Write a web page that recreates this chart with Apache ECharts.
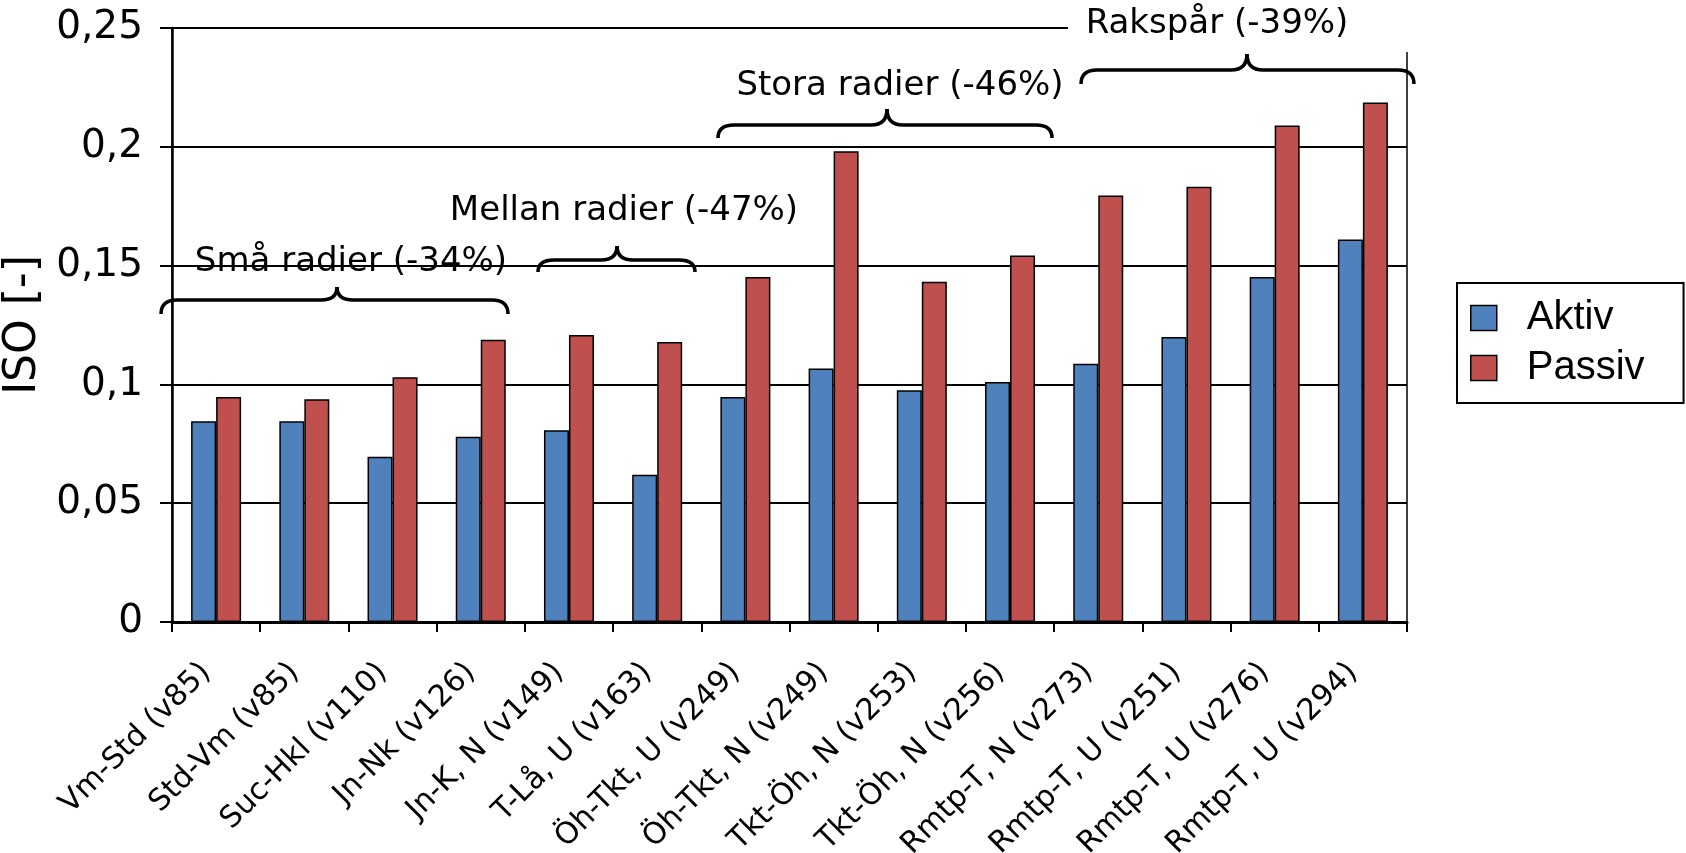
<!DOCTYPE html>
<html>
<head>
<meta charset="utf-8">
<script src="https://cdn.jsdelivr.net/npm/echarts@6/dist/echarts.min.js"></script>
<style>
html,body{margin:0;padding:0;background:#fff;}
#chart{width:1686px;height:853px;}
</style>
</head>
<body>
<div id="chart"></div>
<script>
const categories = ['Vm-Std (v85)', 'Std-Vm (v85)', 'Suc-Hkl (v110)', 'Jn-Nk (v126)', 'Jn-K, N (v149)', 'T-Lå, U (v163)', 'Öh-Tkt, U (v249)', 'Öh-Tkt, N (v249)', 'Tkt-Öh, N (v253)', 'Tkt-Öh, N (v256)', 'Rmtp-T, N (v273)', 'Rmtp-T, U (v251)', 'Rmtp-T, U (v276)', 'Rmtp-T, U (v294)'];
const aktiv = [0.0845, 0.0845, 0.0695, 0.078, 0.0807, 0.062, 0.0947, 0.1067, 0.0975, 0.101, 0.1087, 0.12, 0.1452, 0.161];
const passiv = [0.0947, 0.0937, 0.103, 0.1188, 0.1208, 0.1178, 0.1452, 0.1981, 0.1432, 0.1543, 0.1795, 0.1832, 0.209, 0.2186];
const seriesNames = ['Aktiv', 'Passiv'];
const groupLabels = ['Små radier (-34%)', 'Mellan radier (-47%)', 'Stora radier (-46%)', 'Rakspår (-39%)'];

const FONT = '"DejaVu Sans", Verdana, sans-serif';
const chart = echarts.init(document.getElementById('chart'), null, {renderer: 'canvas'});

const braceStyle = {fill: 'none', stroke: '#000', lineWidth: 3.5};
function braceParts(b) {
  const r = 16;
  const {x0, x1, xm, yTip, yLine, yPeak} = b;
  return [
    {type: 'bezierCurve', z: 101, shape: {x1: x0, y1: yTip, x2: x0 + r, y2: yLine, cpx1: x0, cpy1: yLine}, style: braceStyle},
    {type: 'line', z: 101, shape: {x1: x0 + r, y1: yLine, x2: xm - r, y2: yLine}, style: braceStyle},
    {type: 'bezierCurve', z: 101, shape: {x1: xm - r, y1: yLine, x2: xm, y2: yPeak, cpx1: xm, cpy1: yLine}, style: braceStyle},
    {type: 'bezierCurve', z: 101, shape: {x1: xm, y1: yPeak, x2: xm + r, y2: yLine, cpx1: xm, cpy1: yLine}, style: braceStyle},
    {type: 'line', z: 101, shape: {x1: xm + r, y1: yLine, x2: x1 - r, y2: yLine}, style: braceStyle},
    {type: 'bezierCurve', z: 101, shape: {x1: x1 - r, y1: yLine, x2: x1, y2: yTip, cpx1: x1, cpy1: yLine}, style: braceStyle}
  ];
}

const braces = [
  {x0: 161, x1: 508, xm: 337, yTip: 314, yLine: 300, yPeak: 287, tx: 351, ty: 262},
  {x0: 538, x1: 695, xm: 617, yTip: 272, yLine: 260, yPeak: 246, tx: 624, ty: 211},
  {x0: 718, x1: 1052, xm: 887, yTip: 138, yLine: 125, yPeak: 109, tx: 900, ty: 86},
  {x0: 1081, x1: 1414, xm: 1247, yTip: 84, yLine: 70, yPeak: 54, tx: 1217, ty: 24}
];

let graphics = [
  {type: 'rect', z: 100, shape: {x: 1068, y: 0, width: 370, height: 52}, style: {fill: '#fff'}}
];
braces.forEach((b, i) => {
  graphics = graphics.concat(braceParts(b));
  graphics.push({type: 'text', z: 102, style: {text: groupLabels[i], x: b.tx, y: b.ty, fill: '#000',
    font: '34px ' + FONT, textAlign: 'center', textVerticalAlign: 'middle'}});
});

const option = {
  backgroundColor: '#fff',
  animation: false,
  grid: {left: 172, right: 279, top: 28, bottom: 231, show: true, borderColor: '#000', borderWidth: 1.5,
    containLabel: false, outerBoundsMode: 'none'},
  legend: {
    orient: 'vertical', left: 1457, top: 283,
    data: seriesNames,
    icon: 'rect',
    itemWidth: 26, itemHeight: 25, itemGap: 6,
    padding: [13, 39, 13, 13],
    borderColor: '#000', borderWidth: 2,
    itemStyle: {borderColor: '#000', borderWidth: 1.5},
    textStyle: {fontFamily: '"Liberation Sans", Arial, sans-serif', fontSize: 40, color: '#000', lineHeight: 44, padding: [0, 0, 0, 25]}
  },
  xAxis: {
    type: 'category', data: categories,
    axisLine: {lineStyle: {color: '#000', width: 3}},
    axisTick: {show: true, interval: 0, length: 10, lineStyle: {color: '#000', width: 2}},
    axisLabel: {interval: 0, rotate: 45, fontFamily: FONT, fontSize: 30, color: '#000', margin: 36, padding: [0, 14, 0, 0]},
    splitLine: {show: false}
  },
  yAxis: {
    type: 'value', min: 0, max: 0.25, interval: 0.05,
    name: 'ISO [-]', nameLocation: 'middle', nameRotate: 90, nameGap: 112,
    nameTextStyle: {fontFamily: FONT, fontSize: 44, color: '#000'},
    axisLine: {show: true, lineStyle: {color: '#000', width: 2.5}},
    axisTick: {show: true, length: 12, lineStyle: {color: '#000', width: 2}},
    axisLabel: {fontFamily: FONT, fontSize: 39, color: '#000', margin: 29,
      formatter: v => String(+v.toFixed(2)).replace('.', ',')},
    splitLine: {show: true, lineStyle: {color: '#000', width: 2}}
  },
  series: [
    {name: seriesNames[0], type: 'bar', data: aktiv, barWidth: 25, barGap: '0%',
      itemStyle: {color: '#4F81BD', borderColor: '#000', borderWidth: 1.5}},
    {name: seriesNames[1], type: 'bar', data: passiv, barWidth: 25, barGap: '0%',
      itemStyle: {color: '#C0504D', borderColor: '#000', borderWidth: 1.5}}
  ],
  graphic: graphics
};
chart.setOption(option);
</script>
</body>
</html>
